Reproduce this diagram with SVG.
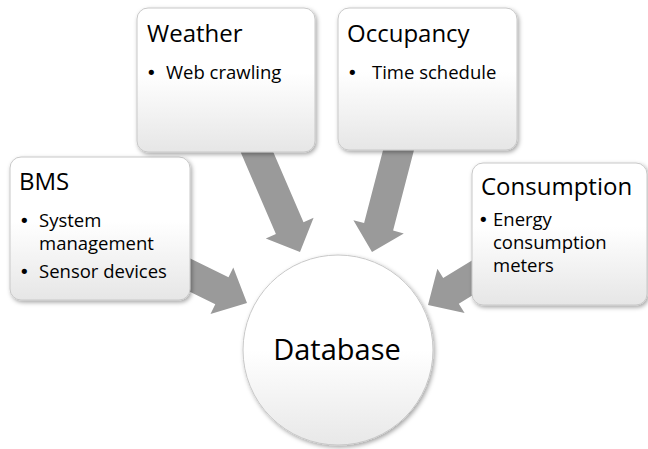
<svg xmlns="http://www.w3.org/2000/svg" width="648" height="449" viewBox="0 0 648 449">
<defs>
<linearGradient id="boxg" x1="0" y1="0" x2="0" y2="1">
<stop offset="0" stop-color="#ffffff"/>
<stop offset="0.45" stop-color="#ffffff"/>
<stop offset="1" stop-color="#e6e6e6"/>
</linearGradient>
<linearGradient id="circg" x1="0" y1="0" x2="0" y2="1">
<stop offset="0" stop-color="#ffffff"/>
<stop offset="0.5" stop-color="#ffffff"/>
<stop offset="1" stop-color="#e8e8e8"/>
</linearGradient>
<filter id="sh" x="-20%" y="-20%" width="140%" height="140%">
<feDropShadow dx="1.5" dy="2" stdDeviation="2" flood-color="#000" flood-opacity="0.35"/>
</filter>
<filter id="ash" x="-20%" y="-20%" width="140%" height="140%">
<feGaussianBlur stdDeviation="0.6"/>
</filter>
</defs>
<style>
.box{fill:url(#boxg);stroke:#c8c8c8;stroke-width:1;filter:url(#sh)}
.circ{fill:url(#circg);stroke:#c8c8c8;stroke-width:1;filter:url(#sh)}
.arrow{fill:#9a9a9a;filter:url(#ash)}
.title{font-family:"Open Sans",Lato,sans-serif;font-size:24px;fill:#000}
.item{font-family:"Open Sans",Lato,sans-serif;font-size:18.5px;fill:#000}
.bul{font-family:"DejaVu Sans",sans-serif;font-size:18px;fill:#000}
.big{font-family:"Open Sans",Lato,sans-serif;font-size:29px;fill:#000}
</style>
<rect width="648" height="449" fill="#fff"/>
<g id="connectors">
<polygon class="arrow" points="186.2,256.5 228.5,277.2 233.3,267.4 247,303 210.5,314 215.3,304.2 173,283.5"/>
<polygon class="arrow" points="268.3,140.5 303.5,222.2 313.6,217.8 300,252 265.8,238.4 275.9,234 240.7,152.3"/>
<polygon class="arrow" points="414.2,149.3 393.1,230.6 403.8,233.4 372,252 353.4,220.2 364.1,223 385.2,141.7"/>
<polygon class="arrow" points="499.8,278.6 458.8,303.7 464.6,313.1 428,305 437.4,268.7 443.2,278.1 484.2,253"/>
</g>
<g id="bms">
<rect class="box" x="10" y="157" width="180" height="143" rx="11"/>
<text class="title" x="19" y="190">BMS</text>
<text class="bul" x="19" y="227">•</text>
<text class="item" x="39" y="227">System</text>
<text class="item" x="39" y="250">management</text>
<text class="bul" x="19" y="278">•</text>
<text class="item" x="39" y="278">Sensor devices</text>
</g>
<g id="weather">
<rect class="box" x="137" y="8" width="178" height="144" rx="11"/>
<text class="title" x="147" y="42">Weather</text>
<text class="bul" x="146" y="79">•</text>
<text class="item" x="166" y="79">Web crawling</text>
</g>
<g id="occupancy">
<rect class="box" x="338" y="8" width="179" height="142" rx="11"/>
<text class="title" x="347" y="42">Occupancy</text>
<text class="bul" x="347" y="79">•</text>
<text class="item" x="372" y="79">Time schedule</text>
</g>
<g id="consumption">
<rect class="box" x="472" y="163" width="175" height="142" rx="11"/>
<text class="title" x="481" y="195">Consumption</text>
<text class="bul" x="478" y="226">•</text>
<text class="item" x="493" y="226">Energy</text>
<text class="item" x="493" y="249">consumption</text>
<text class="item" x="493" y="272">meters</text>
</g>
<g id="database">
<circle class="circ" cx="338" cy="350" r="95"/>
<text class="big" x="337" y="360" text-anchor="middle">Database</text>
</g>
</svg>
